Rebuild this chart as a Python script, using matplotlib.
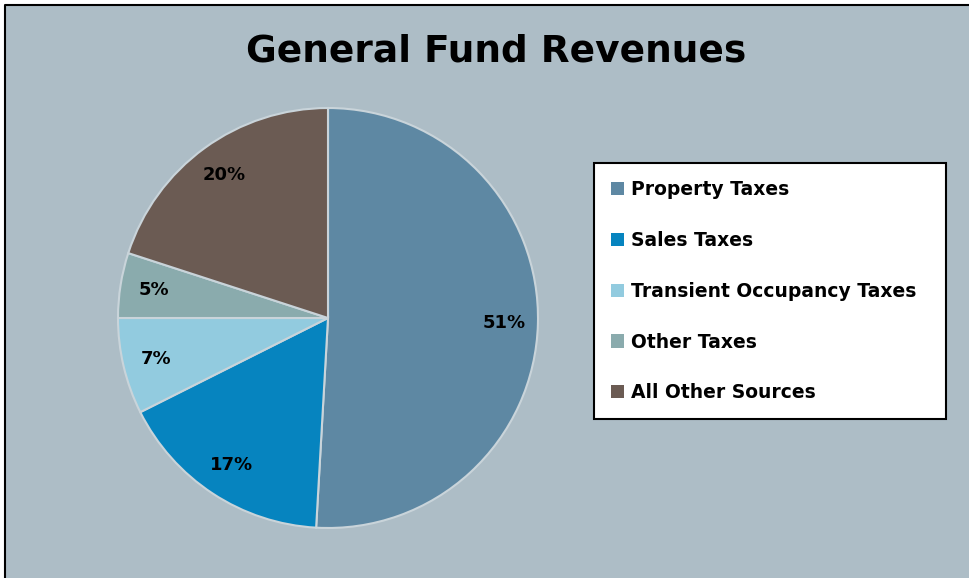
import matplotlib
matplotlib.use("Agg")
import matplotlib.pyplot as plt
from matplotlib.patches import Rectangle
from matplotlib.lines import Line2D

# data
categories = ["Property Taxes", "Sales Taxes", "Transient Occupancy Taxes",
              "Other Taxes", "All Other Sources"]
shares = [50.9, 16.7, 7.4, 5.0, 20.0]
colors = ["#5e88a3", "#0684bf", "#92cbdf", "#8aabad", "#6b5b53"]
title = "General Fund Revenues"

W, H = 969, 578
bg = "#adbdc6"

fig = plt.figure(figsize=(W / 100, H / 100), dpi=100, facecolor="white")

# chart area, black border only on the left and top edges
x0, y0 = 5 / W, 1 - 5 / H
fig.add_artist(Rectangle((x0, 0), 1 - x0, y0, transform=fig.transFigure,
                         facecolor=bg, edgecolor="none", zorder=0))
fig.add_artist(Line2D([x0, x0, 1], [0, y0, y0], transform=fig.transFigure,
                      color="black", linewidth=1.5, zorder=1))

# pie centre at (328, 318) px, radius 210 px
cx, cy, r, half = 328, 318, 210, 215
ax = fig.add_axes([(cx - half) / W, (H - cy - half) / H, 2 * half / W, 2 * half / H])
wedges, _, autotexts = ax.pie(
    shares, colors=colors, startangle=90, counterclock=False,
    autopct="%.0f%%", pctdistance=0.84,
    wedgeprops=dict(edgecolor="#c9d4da", linewidth=1.5),
    textprops=dict(fontsize=13, fontweight="bold", color="black"))
lim = half / r
ax.set_xlim(-lim, lim)
ax.set_ylim(-lim, lim)
ax.set_aspect("equal")
ax.axis("off")

fig.text(496 / W, 1 - 52 / H, title, ha="center", va="center",
         fontsize=27, fontweight="bold")

leg = fig.legend(wedges, categories, loc="upper left",
                 bbox_to_anchor=(594 / W, 1 - 419 / H, 352 / W, 256 / H),
                 mode="expand", borderaxespad=0, frameon=True, fancybox=False,
                 prop=dict(size=13.5, weight="bold"),
                 handlelength=0.7, handleheight=0.7, handletextpad=0.35,
                 labelspacing=1.7, borderpad=0.9)
for h in leg.legend_handles:
    h.set_edgecolor("none")
frame = leg.get_frame()
frame.set_facecolor("white")
frame.set_edgecolor("black")
frame.set_linewidth(1.5)
frame.set_alpha(1)

fig.savefig("out.png", dpi=100, facecolor=fig.get_facecolor())
